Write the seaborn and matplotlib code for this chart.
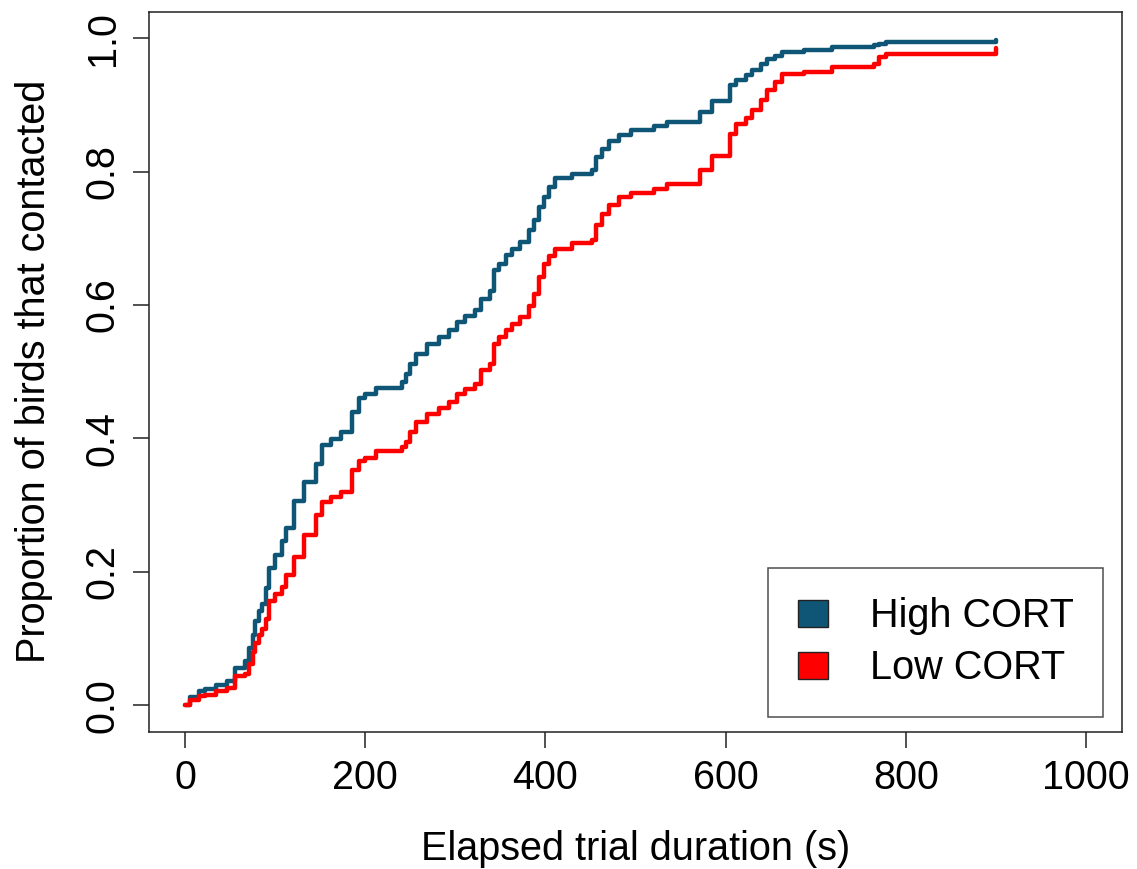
import seaborn as sns
import pandas as pd
import numpy as np
import matplotlib.pyplot as plt
from matplotlib.patches import Patch

# event times (s) and cumulative proportions
times = [0, 6, 15, 22, 34, 47, 56, 67, 71, 75, 78, 82, 86, 90, 93, 100, 108, 112,
         121, 132, 145, 152, 162, 173, 185, 193, 200, 212, 241, 245, 250, 256, 268,
         282, 293, 302, 311, 322, 328, 339, 343, 348, 356, 363, 372, 382, 387, 393,
         398, 404, 411, 429, 452, 456, 463, 470, 482, 495, 520, 535, 572, 585, 605,
         611, 622, 629, 639, 646, 655, 663, 687, 718, 765, 770, 778, 900]
high_cort = [0.0, 0.012, 0.022, 0.024, 0.030, 0.037, 0.056, 0.066, 0.086, 0.106,
             0.126, 0.141, 0.152, 0.176, 0.206, 0.226, 0.246, 0.266, 0.306, 0.334,
             0.362, 0.390, 0.399, 0.409, 0.440, 0.461, 0.466, 0.476, 0.485, 0.496,
             0.512, 0.527, 0.542, 0.552, 0.563, 0.575, 0.583, 0.592, 0.609, 0.621,
             0.652, 0.662, 0.675, 0.684, 0.694, 0.712, 0.727, 0.747, 0.762, 0.777,
             0.790, 0.797, 0.802, 0.822, 0.834, 0.846, 0.855, 0.862, 0.868, 0.874,
             0.889, 0.906, 0.930, 0.937, 0.945, 0.952, 0.962, 0.969, 0.974, 0.980,
             0.983, 0.987, 0.990, 0.992, 0.994, 0.997]
low_cort = [0.0, 0.008, 0.014, 0.016, 0.021, 0.026, 0.044, 0.047, 0.062, 0.080,
            0.094, 0.106, 0.115, 0.130, 0.156, 0.167, 0.178, 0.196, 0.222, 0.256,
            0.285, 0.305, 0.312, 0.320, 0.352, 0.366, 0.371, 0.381, 0.387, 0.395,
            0.409, 0.424, 0.436, 0.445, 0.455, 0.467, 0.474, 0.482, 0.502, 0.512,
            0.542, 0.552, 0.562, 0.572, 0.582, 0.599, 0.617, 0.642, 0.662, 0.674,
            0.684, 0.693, 0.697, 0.720, 0.737, 0.750, 0.762, 0.768, 0.774, 0.782,
            0.802, 0.824, 0.857, 0.872, 0.880, 0.892, 0.907, 0.922, 0.934, 0.947,
            0.950, 0.957, 0.962, 0.972, 0.977, 0.986]

groups = ["High CORT", "Low CORT"]
colors = ["#0E5576", "#FF0000"]

df = pd.concat([
    pd.DataFrame({"time": times, "prop": high_cort, "group": groups[0]}),
    pd.DataFrame({"time": times, "prop": low_cort, "group": groups[1]}),
])

sns.set_style("white")
plt.rcParams['font.family'] = ['Liberation Sans', 'DejaVu Sans']
plt.rcParams['text.color'] = 'black'
plt.rcParams['axes.labelcolor'] = 'black'
plt.rcParams['xtick.color'] = 'black'
plt.rcParams['ytick.color'] = 'black'
fs = 28.5
edge = "#222222"

fig = plt.figure(figsize=(11.37, 8.69), dpi=100)
ax = fig.add_axes([0.131, 0.1577, 0.856, 0.829])

sns.lineplot(data=df, x="time", y="prop", hue="group", palette=colors,
             estimator=None, drawstyle="steps-post", linewidth=3.2,
             legend=False, ax=ax)

ax.set_xlim(-40, 1040)
ax.set_ylim(-0.04, 1.04)
ax.set_xticks([0, 200, 400, 600, 800, 1000])
ax.set_yticks([0.0, 0.2, 0.4, 0.6, 0.8, 1.0])
ax.set_yticklabels(["0.0", "0.2", "0.4", "0.6", "0.8", "1.0"], rotation=90, va="center")
ax.tick_params(axis="both", direction="out", length=11.5, width=1.1, color=edge,
               labelsize=fs, labelcolor="black", pad=8, bottom=True, left=True)
for s in ax.spines.values():
    s.set_color(edge)
    s.set_linewidth(1.1)

ax.set_xlabel("Elapsed trial duration (s)", fontsize=fs, labelpad=24)
ax.set_ylabel("Proportion of birds that contacted", fontsize=fs, labelpad=22)

handles = [Patch(facecolor=c, edgecolor=edge, linewidth=1) for c in colors]
leg = ax.legend(handles, groups, loc="lower right", bbox_to_anchor=(0.9805, 0.0208),
                borderaxespad=0, fontsize=fs, frameon=True, fancybox=False,
                edgecolor=edge, borderpad=0.75, handlelength=0.76,
                handleheight=0.7, handletextpad=1.05, labelspacing=0.35)
leg.get_frame().set_linewidth(1.1)

fig.savefig("out.png", dpi=100)
